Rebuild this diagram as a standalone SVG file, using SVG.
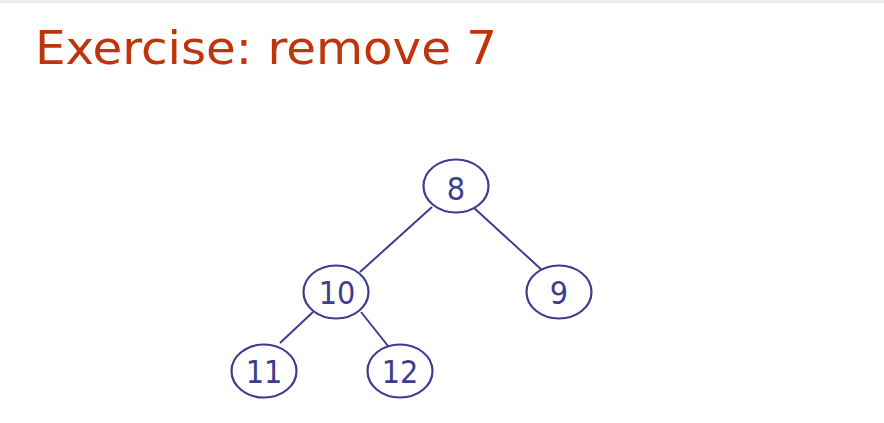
<svg xmlns="http://www.w3.org/2000/svg" width="884" height="423" viewBox="0 0 884 423">
<style>
.n ellipse{fill:#fff;stroke:#3d3d8f;stroke-width:2.2}
.n text{font-family:"DejaVu Sans Condensed","DejaVu Sans",sans-serif;font-size:32px;fill:#3d3d8f;text-anchor:middle}
.e line{stroke:#3d3d8f;stroke-width:2}
</style>
<rect x="0" y="0" width="884" height="423" fill="#fff"/>
<rect x="0" y="0" width="884" height="3" fill="#ececec"/>
<text x="35" y="64" font-family="DejaVu Sans Condensed, DejaVu Sans, sans-serif" font-size="47" fill="#c0340c" textLength="462" lengthAdjust="spacingAndGlyphs">Exercise: remove 7</text>
<g class="e" id="edges">
<line x1="432" y1="207" x2="360" y2="272"/>
<line x1="473" y1="207" x2="543" y2="271"/>
<line x1="313" y1="312" x2="280" y2="343"/>
<line x1="361" y1="312" x2="392" y2="351"/>
</g>
<g class="n" id="n8"><ellipse cx="456" cy="186" rx="32.5" ry="26.5"/><text x="456" y="200">8</text></g>
<g class="n" id="n10"><ellipse cx="336" cy="292" rx="32.5" ry="26.5"/><text x="337" y="304">10</text></g>
<g class="n" id="n9"><ellipse cx="559" cy="292" rx="32.5" ry="26.5"/><text x="559" y="304">9</text></g>
<g class="n" id="n11"><ellipse cx="264" cy="371" rx="32.5" ry="26.5"/><text x="264" y="383">11</text></g>
<g class="n" id="n12"><ellipse cx="400" cy="371" rx="32.5" ry="26.5"/><text x="400" y="383">12</text></g>
</svg>
